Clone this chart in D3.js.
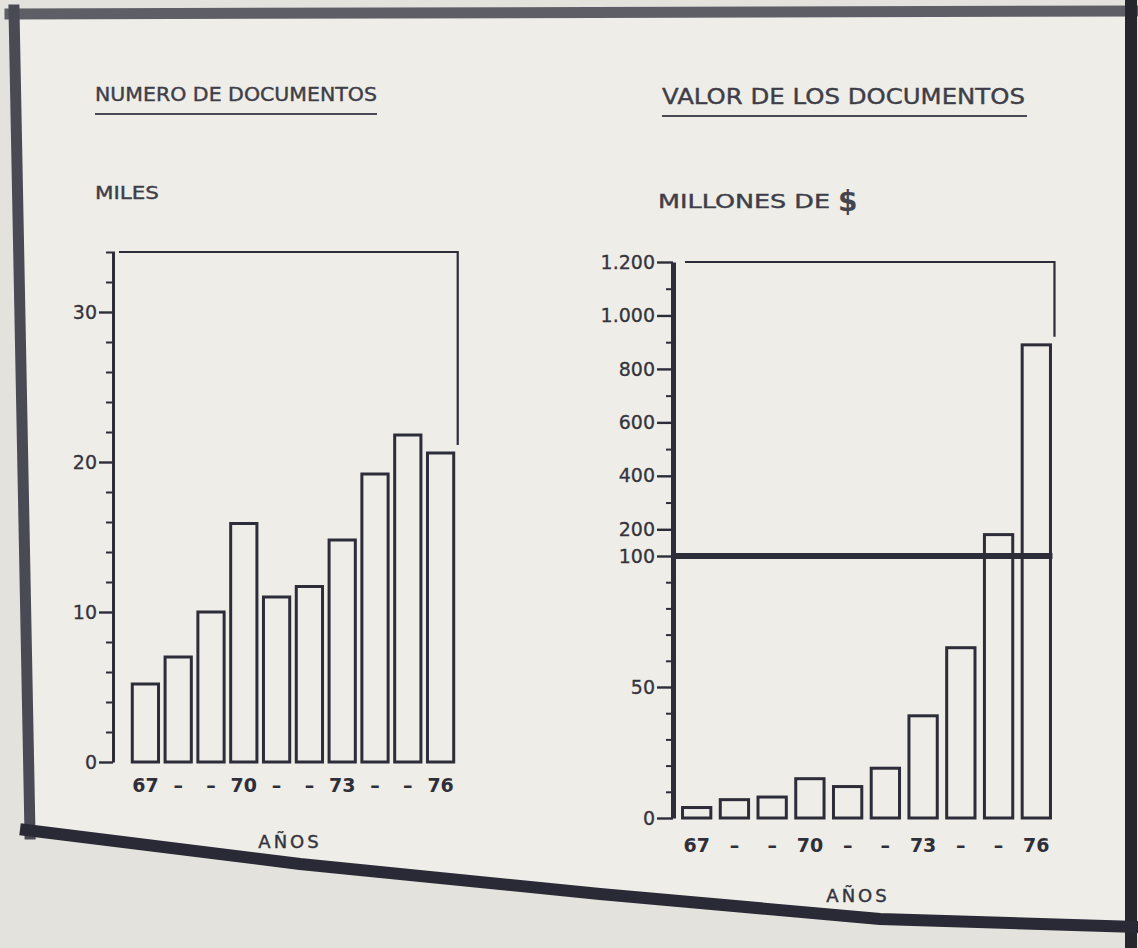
<!DOCTYPE html>
<html><head><meta charset="utf-8">
<script src="https://cdn.jsdelivr.net/npm/d3@7"></script>
<style>
body{margin:0;background:#e3e2dd;}
svg{display:block;}
text{font-family:"DejaVu Sans", sans-serif;}
</style>
</head><body>
<svg id="c" width="1138" height="948"></svg>
<script>
// ---------- data ----------
const years = ["67","68","69","70","71","72","73","74","75","76"];
const yearLabels = ["67","–","–","70","–","–","73","–","–","76"];
const numeroDocumentos = [5.2, 7.0, 10.0, 15.9, 11.0, 11.7, 14.8, 19.2, 21.8, 20.6]; // miles
const valorDocumentos = [4, 7, 8, 15, 12, 19, 39, 65, 180, 890];                     // millones de $
const leftMajorTicks = [0, 10, 20, 30];
const leftMinorTicks = [2, 4, 6, 8, 12, 14, 16, 18, 22, 24, 26, 28, 32, 34];
const rightMajorTicks = [0, 50, 100, 200, 400, 600, 800, 1000, 1200];
const rightMinorTicks = [10, 20, 30, 40, 60, 70, 80, 90, 300, 500, 700, 900, 1100];
const rightBreak = 100;
const leftTitle = "NUMERO DE DOCUMENTOS", leftUnit = "MILES";
const rightTitle = "VALOR DE LOS DOCUMENTOS", rightUnit = "MILLONES DE", rightCurrency = "$";
const xTitle = "AÑOS";

// ---------- setup ----------
const INK = "#2d2d3a", PAPER = "#eeede8", TXT = "#3e3e48";
const svg = d3.select("#c");
const loc = d3.formatLocale({decimal: ",", thousands: ".", grouping: [3], currency: ["$", ""]});
const fmt = loc.format(",");

// paper card with photographed border
svg.append("path")
  .attr("d", "M14,14 L1131,12 L1131,926 L880,918 L600,893 L300,863 L30,830 Z")
  .attr("fill", PAPER);
const border = [
  {d: "M10,14 L1135,11", c: "#5e5e66", w: 11},
  {d: "M14,10 L30,834", c: "#4a4a55", w: 11},
  {d: "M1131,6 L1131,948", c: "#26262e", w: 12},
  {d: "M26,830 L300,864 L600,894 L880,919 L1135,927", c: "#2a2a36", w: 12}
];
svg.selectAll("path.b").data(border).join("path")
  .attr("class", "b").attr("d", d => d.d).attr("fill", "none")
  .attr("stroke", d => d.c).attr("stroke-width", d => d.w)
  .attr("stroke-linecap", "square").attr("stroke-linejoin", "round");

function titles(g, x, title, tSize, tLen, tY, ulY, ulEnd) {
  g.append("text").attr("x", x).attr("y", tY).attr("font-size", tSize)
    .attr("fill", TXT).attr("stroke", TXT).attr("stroke-width", 0.4)
    .attr("textLength", tLen).attr("lengthAdjust", "spacingAndGlyphs")
    .text(title);
  g.append("line").attr("x1", x).attr("x2", ulEnd).attr("y1", ulY).attr("y2", ulY)
    .attr("stroke", "#4a4a55").attr("stroke-width", 2.2);
}

function drawChart(opt) {
  const g = svg.append("g");
  const {x, y, values, axisX, majors, minors, axisW, frameTopV} = opt;

  // axis line + major ticks
  const ax = g.append("g").attr("transform", `translate(${axisX},0)`)
    .call(d3.axisLeft(y).tickValues(majors).tickSize(opt.tickLen).tickSizeOuter(0)
      .tickPadding(2).tickFormat(fmt));
  ax.select(".domain").attr("stroke", INK).attr("stroke-width", axisW);
  ax.selectAll(".tick line").attr("stroke", INK).attr("stroke-width", 2.4);
  ax.selectAll(".tick text").attr("font-size", 19).attr("fill", "#34343e")
    .attr("stroke", "#34343e").attr("stroke-width", 0.3)
    .attr("font-family", '"DejaVu Sans", sans-serif');

  // minor ticks
  const mn = g.append("g").attr("transform", `translate(${axisX + 2},0)`)
    .call(d3.axisLeft(y).tickValues(minors).tickSize(9).tickFormat(""));
  mn.select(".domain").remove();
  mn.selectAll(".tick line").attr("stroke", INK).attr("stroke-width", 2);

  // bars
  g.selectAll("rect.bar").data(values).join("rect").attr("class", "bar")
    .attr("x", (d, i) => x(years[i]))
    .attr("y", d => y(d))
    .attr("width", x.bandwidth())
    .attr("height", d => y(0) - y(d))
    .attr("fill", "none").attr("stroke", INK).attr("stroke-width", 3);

  // bracket frame
  const lastRight = x(years[years.length - 1]) + x.bandwidth() + 4;
  g.append("path")
    .attr("d", `M${axisX + opt.frameGap},${y(frameTopV)} H${lastRight} V${y(values[values.length - 1]) - 8}`)
    .attr("fill", "none").attr("stroke", INK).attr("stroke-width", 2.2);

  // x labels
  const xa = g.append("g").attr("transform", `translate(0,${y(0) + opt.xLabelOff})`)
    .call(d3.axisBottom(x).tickSize(0).tickPadding(0).tickFormat((d, i) => yearLabels[i]));
  xa.select(".domain").remove();
  xa.selectAll(".tick text").attr("font-size", 19).attr("font-weight", "bold")
    .attr("fill", "#2f2f3a").attr("font-family", '"DejaVu Sans", sans-serif');

  g.append("text").attr("x", opt.xTitleX).attr("y", opt.xTitleY)
    .attr("text-anchor", "middle").attr("font-size", 18).attr("letter-spacing", 3)
    .attr("fill", "#34343e").attr("stroke", "#34343e").attr("stroke-width", 0.4).text(xTitle);
  return {g, lastRight};
}

// ---------- left chart ----------
const xL = d3.scaleBand().domain(years).range([129, 457]).paddingInner(0.2).paddingOuter(0.1);
const yL = d3.scaleLinear().domain([0, 34]).range([762, 252]);
const L = drawChart({x: xL, y: yL, values: numeroDocumentos, axisX: 113,
  majors: leftMajorTicks, minors: leftMinorTicks, axisW: 3, tickLen: 14,
  frameTopV: 34, frameGap: 6, xLabelOff: 16, xTitleX: 290, xTitleY: 848});
titles(L.g, 95, leftTitle, 19, 282, 101, 114, 377);
L.g.append("text").attr("x", 95).attr("y", 199).attr("font-size", 18)
  .attr("fill", TXT).attr("stroke", TXT).attr("stroke-width", 0.4)
  .attr("textLength", 64).attr("lengthAdjust", "spacingAndGlyphs").text(leftUnit);

// ---------- right chart (broken scale at 100) ----------
const xR = d3.scaleBand().domain(years).range([678, 1055]).paddingInner(0.25).paddingOuter(0.12);
const yR = d3.scaleLinear().domain([0, rightBreak, 1200]).range([818, 556, 262]);
const R = drawChart({x: xR, y: yR, values: valorDocumentos, axisX: 673,
  majors: rightMajorTicks, minors: rightMinorTicks, axisW: 5, tickLen: 16,
  frameTopV: 1200, frameGap: 12, xLabelOff: 20, xTitleX: 858, xTitleY: 902});
// thick break line at 100
R.g.append("line").attr("x1", 673).attr("x2", R.lastRight - 2)
  .attr("y1", yR(rightBreak)).attr("y2", yR(rightBreak))
  .attr("stroke", INK).attr("stroke-width", 6);
titles(R.g, 662, rightTitle, 22, 363, 104, 116, 1027);
R.g.append("text").attr("x", 658).attr("y", 208).attr("font-size", 19)
  .attr("fill", TXT).attr("stroke", TXT).attr("stroke-width", 0.4)
  .attr("textLength", 172).attr("lengthAdjust", "spacingAndGlyphs").text(rightUnit);
R.g.append("text").attr("x", 838).attr("y", 211).attr("font-size", 28).attr("font-weight", "bold")
  .attr("fill", "#44444e").text(rightCurrency);
</script>
</body></html>
